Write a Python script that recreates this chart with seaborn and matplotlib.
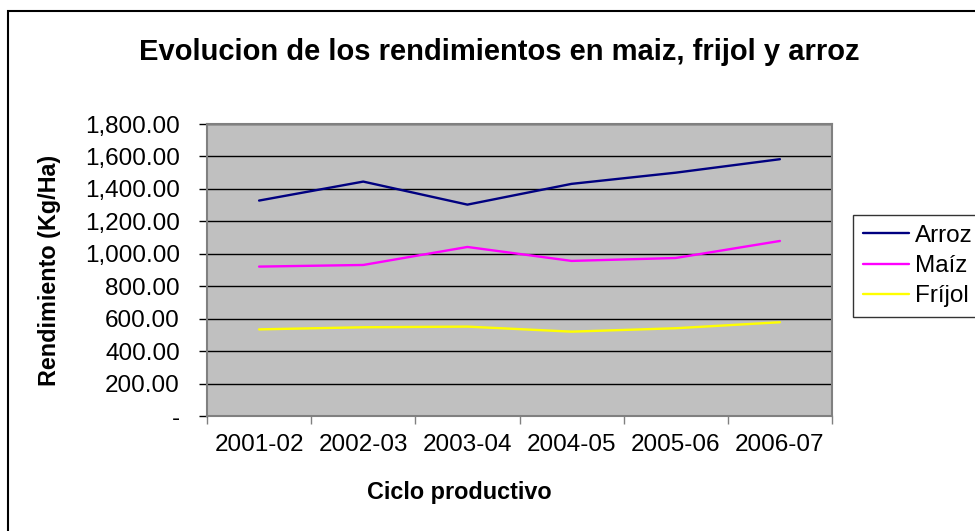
import matplotlib
matplotlib.use("Agg")
import matplotlib.pyplot as plt
import matplotlib.patches as mpatches
import pandas as pd
import seaborn as sns
from matplotlib.ticker import FuncFormatter, FixedLocator

ciclos = ["2001-02", "2002-03", "2003-04", "2004-05", "2005-06", "2006-07"]
arroz = [1328, 1445, 1303, 1431, 1500, 1583]
maiz = [921, 931, 1042, 956, 974, 1079]
frijol = [534, 547, 551, 520, 541, 578]
series_names = ["Arroz", "Maíz", "Fríjol"]
colors = ["#000080", "#FF00FF", "#FFFF00"]
yticks = [0, 200, 400, 600, 800, 1000, 1200, 1400, 1600, 1800]

sns.set_theme(style="white")
plt.rcParams["font.family"] = ["Liberation Sans", "DejaVu Sans"]
plt.rcParams["text.color"] = "black"
plt.rcParams["xtick.color"] = "black"
plt.rcParams["ytick.color"] = "black"

rows = []
for name, vals in zip(series_names, [arroz, maiz, frijol]):
    for i, (c, v) in enumerate(zip(ciclos, vals)):
        rows.append({"idx": i, "Ciclo": c, "Serie": name, "Valor": v})
df = pd.DataFrame(rows)

fig = plt.figure(figsize=(9.75, 5.31), dpi=100)
ax = fig.add_axes([207/975, 1-416/531, (832-207)/975, (416-124)/531])
ax.set_facecolor("#C0C0C0")

sns.lineplot(data=df, x="idx", y="Valor", hue="Serie", hue_order=series_names,
             palette=colors, linewidth=1.7, ax=ax, legend=False)

ax.set_xlim(-0.5, 5.5)
ax.set_ylim(0, 1800)
ax.set_yticks(yticks)
ax.yaxis.set_major_formatter(FuncFormatter(lambda v, p: "-" if v == 0 else f"{v:,.2f}"))
ax.grid(axis="y", color="black", linewidth=1)
ax.set_axisbelow(True)

ax.xaxis.set_major_locator(FixedLocator([i - 0.5 for i in range(len(ciclos) + 1)]))
ax.xaxis.set_major_formatter(FuncFormatter(lambda v, p: ""))
ax.set_xticks(range(len(ciclos)), ciclos, minor=True)
ax.tick_params(axis="x", which="major", direction="out", length=6, width=1, color="#808080", bottom=True)
ax.tick_params(axis="x", which="minor", length=0, pad=13, labelsize=17.5)
ax.tick_params(axis="y", direction="out", length=5.5, width=1, color="black", left=True,
               labelsize=17.5, pad=14)
for s in ax.spines.values():
    s.set_color("#808080")
    s.set_linewidth(1.5)
ax.set_xlabel("")
ax.set_ylabel("")

fig.text(499/975, 1-52/531, "Evolucion de los rendimientos en maiz, frijol y arroz",
         ha="center", va="center", fontsize=21, fontweight="bold")
fig.text(459/975, 1-493/531, "Ciclo productivo", ha="center", va="center",
         fontsize=16.8, fontweight="bold")
fig.text(50/975, 1-270/531, "Rendimiento (Kg/Ha)", ha="center", va="center",
         fontsize=16.8, fontweight="bold", rotation=90)

# legend
handles = [plt.Line2D([], [], color=c, linewidth=1.7) for c in colors]
leg = fig.legend(handles, series_names, loc="upper left",
                 bbox_to_anchor=(853/975, 1-215/531), frameon=True, fontsize=17.5,
                 handlelength=1.9, handletextpad=0.25, borderpad=0.4, labelspacing=0.34,
                 fancybox=False, borderaxespad=0)
leg.get_frame().set_edgecolor("black")
leg.get_frame().set_linewidth(1)

# outer chart border
fig.patches.append(mpatches.Rectangle((8/975, -0.1), 1.2, 1-11/531 + 0.1,
                                      transform=fig.transFigure, fill=False,
                                      edgecolor="black", linewidth=1.5))

fig.savefig("out.png", dpi=100)
